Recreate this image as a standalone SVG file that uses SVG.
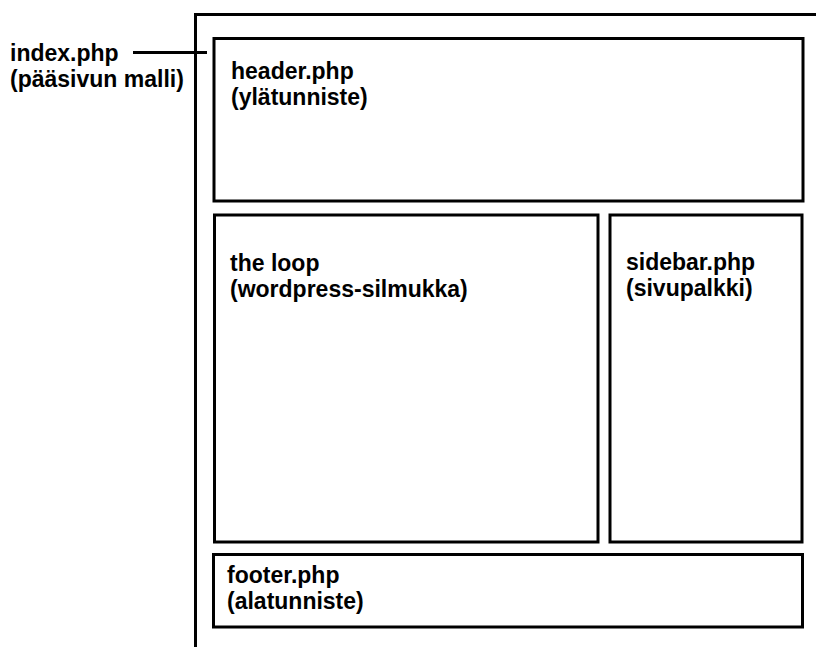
<svg xmlns="http://www.w3.org/2000/svg" width="816" height="647" viewBox="0 0 816 647">
<style>
.box{fill:none;stroke:#000;stroke-width:3}
.t{font-family:"Liberation Sans",Arial,sans-serif;font-weight:bold;font-size:23px;fill:#000}
</style>
<rect width="816" height="647" fill="#fff"/>
<g id="frame">
<polyline class="box" points="195.5,647 195.5,14.5 816,14.5"/>
</g>
<g id="index">
<text class="t" x="10" y="61">index.php</text>
<text class="t" x="10" y="87">(pääsivun malli)</text>
</g>
<g id="header">
<rect class="box" x="214" y="38.5" width="589" height="162.5"/>
<text class="t" x="231" y="79">header.php</text>
<text class="t" x="231" y="105">(ylätunniste)</text>
</g>
<g id="loop">
<rect class="box" x="214.5" y="215" width="383.5" height="327"/>
<text class="t" x="230" y="271">the loop</text>
<text class="t" x="230" y="297">(wordpress-silmukka)</text>
</g>
<g id="sidebar">
<rect class="box" x="610" y="215" width="192" height="327"/>
<text class="t" x="626" y="270">sidebar.php</text>
<text class="t" x="626" y="296">(sivupalkki)</text>
</g>
<g id="footer">
<rect class="box" x="213.5" y="554.5" width="589" height="72.5"/>
<text class="t" x="227" y="583">footer.php</text>
<text class="t" x="227" y="609">(alatunniste)</text>
</g>
<g id="connectors">
<line class="box" x1="133" y1="52.5" x2="207" y2="52.5"/>
</g>
</svg>
